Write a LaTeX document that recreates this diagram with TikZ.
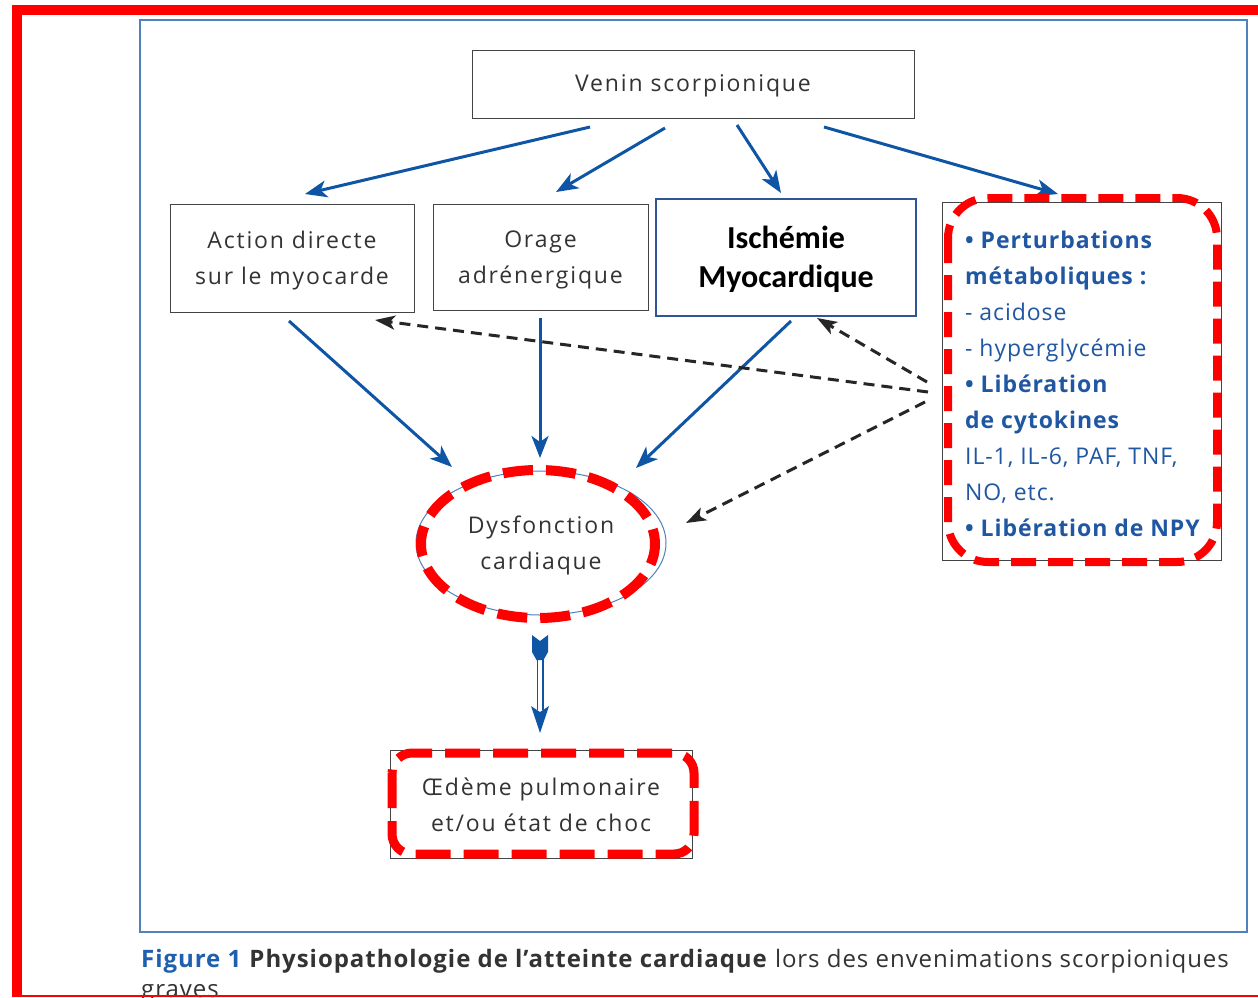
\documentclass[tikz,border=0pt]{standalone}
\usepackage{fontspec}
\setmainfont{Open Sans}
\newfontfamily\boxfont{Open Sans}[LetterSpace=8]
\newfontfamily\infofont{Open Sans}[LetterSpace=4]
\newfontfamily\capfont{Open Sans}[LetterSpace=4]
\newfontfamily\carlito{Carlito}
\usetikzlibrary{arrows.meta,calc}
\definecolor{frameblue}{HTML}{4F81BD}
\definecolor{arrowblue}{HTML}{0F55A5}
\definecolor{textblue}{HTML}{1F57A3}
\definecolor{capblue}{HTML}{1F5FAE}
\definecolor{boxgray}{HTML}{444444}
\definecolor{txtgray}{HTML}{333333}
\definecolor{isblue}{HTML}{2F5597}
\definecolor{redmk}{HTML}{FF0000}
\begin{document}
\begin{tikzpicture}[x=1pt,y=-1pt,
 box/.style={draw=boxgray,line width=1pt,inner sep=0pt},
 btext/.style={inner sep=0pt,align=center,text=txtgray,font=\boxfont\fontsize{23}{36}\selectfont},
 barrow/.style={draw=arrowblue,line width=3pt,-{Stealth[length=22pt,width=17pt,inset=6pt]}},
 darrow/.style={draw=black!85,line width=3pt,dash pattern=on 11pt off 7pt,-{Stealth[length=20pt,width=14pt,inset=5pt]}},
 redmark/.style={draw=redmk,line width=9pt,dash pattern=on 30pt off 13pt},
]
\useasboundingbox (0,0) rectangle (1258,997);
\fill[white] (0,0) rectangle (1258,997);
% frames
\draw[frameblue,line width=1.5pt] (140,20) rectangle (1247,932);

% boxes
\node[box,minimum width=442pt,minimum height=68pt] (venin) at (693,84) {};
\node[box,minimum width=244pt,minimum height=108pt] (action) at (292,258) {};
\node[box,minimum width=215pt,minimum height=106pt] (orage) at (540.5,257) {};
\node[box,draw=isblue,line width=2pt,minimum width=260pt,minimum height=117pt] (isch) at (786,257.5) {};
\node[box,minimum width=279pt,minimum height=358pt] (info) at (1081.5,381.5) {};
\node[box,minimum width=302pt,minimum height=108pt] (oed) at (541,804) {};

% texts
\node[btext] (venint) at ($(venin)+(0,2)$) {Venin scorpionique};
\node[btext] (actiont) at ($(action)+(0,3)$) {Action directe\\sur le myocarde};
\node[btext] (oraget) at ($(orage)+(0,3)$) {Orage\\adrénergique};
\node[btext,text=black,font=\carlito\bfseries\fontsize{32}{39}\selectfont] (ischt) at ($(isch)+(0,2)$) {Ischémie\\Myocardique};
\node[anchor=west,inner sep=0pt,align=left,text=textblue,font=\infofont\fontsize{23}{36}\selectfont] (infotext) at (965,384)
 {\textbf{• Perturbations}\\\textbf{métaboliques :}\\- acidose\\- hyperglycémie\\\textbf{• Libération}\\\textbf{de cytokines}\\IL-1, IL-6, PAF, TNF,\\NO, etc.\\\textbf{• Libération de NPY}};
\node[btext] (dys) at (541,545) {Dysfonction\\cardiaque};
\node[btext] (oedt) at ($(oed)+(0,1)$) {Œdème pulmonaire\\et/ou état de choc};

% ellipse around dys
\draw[frameblue,line width=1pt] (541,543) ellipse [x radius=125pt,y radius=72pt];

% arrow endpoints
\coordinate (v1) at (590,127); \coordinate (a1) at (305,194);
\coordinate (v2) at (665,128); \coordinate (o1) at (556,192);
\coordinate (v3) at (737,125); \coordinate (i1) at (781,193);
\coordinate (v4) at (824,127); \coordinate (p1) at (1058,194);
\coordinate (a2) at (289,321); \coordinate (d1) at (452,467);
\coordinate (o2) at (540,318); \coordinate (d2) at (540,458);
\coordinate (i2) at (791,321); \coordinate (d3) at (636,468);
\coordinate (s1) at (927,382); \coordinate (i3) at (817,318);
\coordinate (s2) at (928,392); \coordinate (a3) at (375,320);
\coordinate (s3) at (925,402); \coordinate (d4) at (686,523);

\draw[barrow] (v1) -- (a1);
\draw[barrow] (v2) -- (o1);
\draw[barrow] (v3) -- (i1);
\draw[barrow] (v4) -- (p1);
\draw[barrow] (a2) -- (d1);
\draw[barrow] (o2) -- (d2);
\draw[barrow] (i2) -- (d3);
\draw[darrow] (s1) -- (i3);
\draw[darrow] (s2) -- (a3);
\draw[darrow] (s3) -- (d4);

% double arrow dys -> oed
\coordinate (dt) at (540,635);
\coordinate (dh) at (540,733);
\fill[arrowblue] (532,635) -- (540,641) -- (548,635) -- (548,652) -- (543.5,660) -- (536.5,660) -- (532,652) -- cycle;
\draw[arrowblue,line width=1.6pt] (537.3,657) -- (537.3,710) (542.7,657) -- (542.7,710);
\fill[arrowblue] (531,706) -- (540,712) -- (549,706) -- (dh) -- cycle;

% red highlight marks
\draw[redmark,line width=10pt,dash phase=15pt] (538,544) ellipse [x radius=117pt,y radius=74pt];
\draw[redmark,line width=8pt,dash pattern=on 25pt off 12pt,rounded corners=40pt] (948,198) rectangle (1217,562);
\draw[redmark,rounded corners=20pt,dash pattern=on 35pt off 13pt] (392,753) rectangle (694,854);

% caption
\node[anchor=base west,inner sep=0pt,text=txtgray,font=\capfont\fontsize{24}{30}\selectfont] (cap) at (141,967)
 {\textcolor{capblue}{\textbf{Figure 1}} \textbf{Physiopathologie de l’atteinte cardiaque} lors des envenimations scorpioniques};
\node[anchor=base west,inner sep=0pt,text=txtgray,font=\capfont\fontsize{24}{30}\selectfont] (cap2) at (141,997) {graves};

% outer red frame
\fill[redmk] (12,5) rectangle (1258,15);
\fill[redmk] (12,5) rectangle (22,997);
\draw[redmk,line width=2pt] (22,995.5) -- (1258,995.5);
\end{tikzpicture}
\end{document}
